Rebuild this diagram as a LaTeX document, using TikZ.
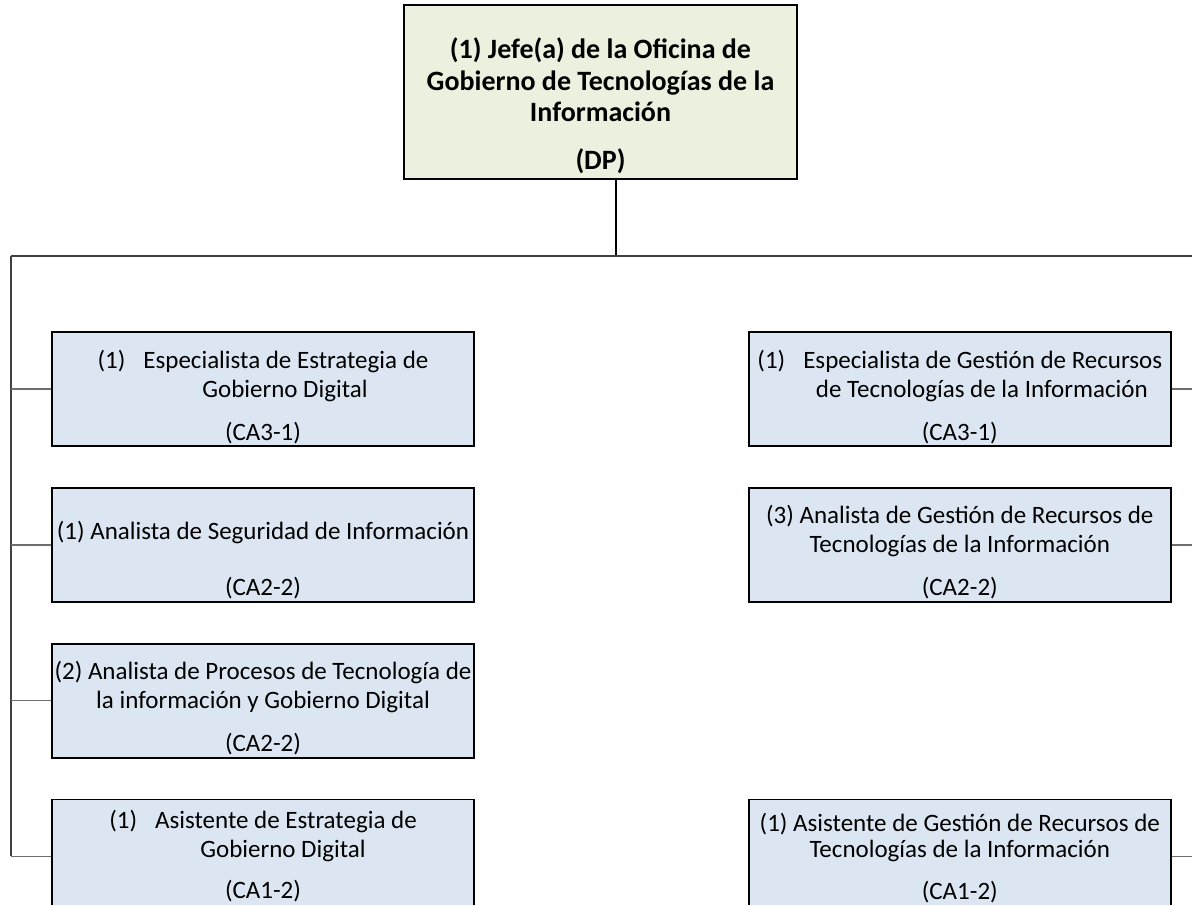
\documentclass[tikz,border=0pt]{standalone}
\usepackage{fontspec}
\setmainfont{Carlito}
\usetikzlibrary{positioning, calc}
\definecolor{oliveL}{HTML}{EBF1DE}
\definecolor{blueL}{HTML}{DCE6F2}
\definecolor{grayD}{HTML}{404040}
\definecolor{grayM}{HTML}{6E6E6E}
\tikzset{
  base/.style={rectangle, draw=black, line width=1.8pt, inner sep=0pt, align=center},
  ndBoss/.style={base, fill=oliveL, minimum width=393pt, minimum height=174pt, font=\fontsize{28}{31.5}\selectfont\bfseries, text height=164pt, text depth=10pt},
  ndBlue/.style={base, fill=blueL, minimum width=422pt, minimum height=114pt, font=\fontsize{25}{29}\selectfont, text height=108pt, text depth=6pt},
  bus/.style={line width=2pt, draw=grayD},
  twig/.style={line width=1.4pt, draw=grayM}
}
\begin{document}
\begin{tikzpicture}[x=1pt, y=-1pt]
  \clip (0,0) rectangle (1192,905);
  % ── Head ──
  \node[ndBoss] (jefe) at (600.5,92) {(1) Jefe(a) de la Oficina de\\Gobierno de Tecnologías de la\\Información\\[16pt](DP)};
  \coordinate (busL) at (11,256);
  \coordinate (busR) at (1192,256);

  % ── Left column ──
  \node[ndBlue] (espEst) at (263,389) {(1)\hspace{18pt}Especialista de Estrategia de\\\hspace*{44pt}Gobierno Digital\\[14pt](CA3-1)};
  \node[ndBlue, below=40pt of espEst] (anaSeg) {(1) Analista de Seguridad de Información\\[27pt](CA2-2)};
  \node[ndBlue, below=40pt of anaSeg] (anaPro) {(2) Analista de Procesos de Tecnología de\\la información y Gobierno Digital\\[14pt](CA2-2)};
  \node[ndBlue, below=40pt of anaPro, text height=99pt, text depth=15pt] (asiEst) {(1)\hspace{18pt}Asistente de Estrategia de\\\hspace*{40pt}Gobierno Digital\\[12pt](CA1-2)};

  % ── Right column ──
  \node[ndBlue, right=273pt of espEst] (espGes) {(1)\hspace{18pt}Especialista de Gestión de Recursos\\\hspace*{44pt}de Tecnologías de la Información\\[14pt](CA3-1)};
  \node[ndBlue, right=273pt of anaSeg] (anaGes) {(3) Analista de Gestión de Recursos de\\Tecnologías de la Información\\[14pt](CA2-2)};
  \node[ndBlue, right=273pt of asiEst, text height=100pt, text depth=14pt] (asiGes) {(1) Asistente de Gestión de Recursos de\\[-3pt]Tecnologías de la Información\\[13pt](CA1-2)};

  % ── Connectors ──
  \draw[line width=2pt] ([xshift=15pt]jefe.south) -- ([xshift=15pt]jefe.south |- busL);
  \draw[bus] (busL) -- (busR);
  \draw[bus] (busL) -- (busL |- asiEst.west);
  \foreach \n in {espEst, anaSeg, anaPro, asiEst}
    \draw[twig] (\n.west) -- (\n.west -| busL);
  \foreach \n in {espGes, anaGes, asiGes}
    \draw[twig] (\n.east) -- (\n.east -| busR);
\end{tikzpicture}
\end{document}
